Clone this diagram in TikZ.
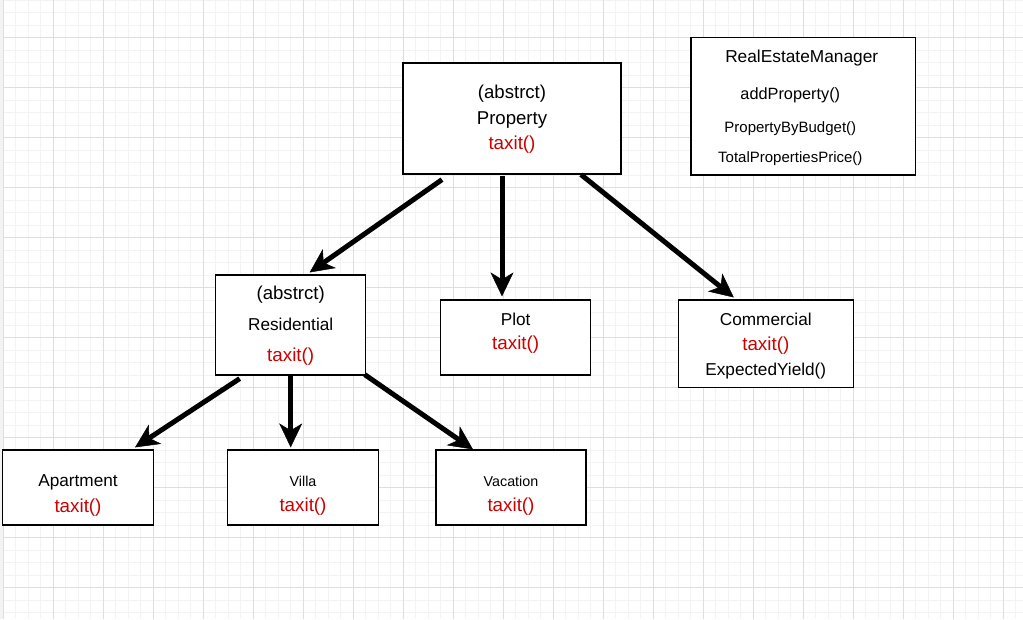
\documentclass[tikz,border=0pt]{standalone}
\usepackage{fontspec}
\setmainfont{Liberation Sans}
\usepackage{xcolor}
\usetikzlibrary{arrows.meta,positioning,calc}
\definecolor{taxred}{RGB}{204,0,0}
\definecolor{gridminor}{RGB}{243,243,243}
\definecolor{gridmajor}{RGB}{222,222,222}
\newcommand{\redcall}[1]{{\fontsize{18.8}{25}\selectfont\textcolor{taxred}{#1}}}
\newcommand{\abstag}{{\fontsize{18.6}{25}\selectfont (abstrct)}}
\newcommand{\bigtext}{\fontsize{17.2}{25}\selectfont}
\newcommand{\smalltext}{\fontsize{14.3}{20}\selectfont}

\begin{document}
\begin{tikzpicture}[x=1pt,y=-1pt,
  box/.style={rectangle,draw=black,line width=1.2pt,fill=white,inner sep=0pt},
  lbl/.style={align=center,inner sep=0pt,font=\bigtext},
  arrow/.style={-{Stealth[length=24pt,width=23pt,inset=7pt,line width=0.5pt]},line width=5pt}
]
\useasboundingbox (0,0) rectangle (1023,619);
% background grid
\fill[white] (0,0) rectangle (1023,619);
\fill[gridminor] (0,0) rectangle (3,619);
\foreach \x in {3.3,15.8,...,1023} \draw[gridminor,line width=1pt] (\x,0) -- (\x,619);
\foreach \y in {0.3,12.8,...,619} \draw[gridminor,line width=1pt] (3,\y) -- (1023,\y);
\foreach \x in {3.3,53.3,...,1023} \draw[gridmajor,line width=1pt] (\x,0) -- (\x,619);
\foreach \y in {37.3,87.3,...,619} \draw[gridmajor,line width=1pt] (3,\y) -- (1023,\y);

% classes
\node[box,minimum width=218pt,minimum height=111pt] (prop) at (512,118.5) {};
\node[lbl,font=\fontsize{18.6}{25.6}\selectfont] (proptext) at ([yshift=-1pt]prop.center) {(abstrct)\\Property\\\redcall{taxit()}};

\node[box,minimum width=224.7pt,minimum height=137.3pt] (rem) at (803.3,106.3) {};
\node[lbl,font=\fontsize{17.3}{20}\selectfont] (remtitle) at ([shift={(-1.6,21)}]rem.north) {RealEstateManager};
\node[lbl,font=\fontsize{16.3}{20}\selectfont] (remadd) at ([shift={(-13,58)}]rem.north) {addProperty()};
\node[lbl,font=\fontsize{15}{20}\selectfont] (rembudget) at ([shift={(-13,91.5)}]rem.north) {PropertyByBudget()};
\node[lbl,font=\fontsize{15}{20}\selectfont] (remtotal) at ([shift={(-13,121.5)}]rem.north) {TotalPropertiesPrice()};

\node[box,minimum width=150pt,minimum height=100pt] (res) at (290.7,325) {};
\node[lbl] (restext) at ([yshift=-1pt]res.center) {\abstag\\[6pt]Residential\\[6pt]\redcall{taxit()}};

\node[box,minimum width=150pt,minimum height=75pt] (plot) at (515.7,337.5) {};
\node[lbl] (plottext) at ([yshift=4pt]plot.center) {Plot\\[-1pt]\redcall{taxit()}};

\node[box,minimum width=175pt,minimum height=87.7pt] (comm) at (765.8,343.9) {};
\node[lbl] (commtext) at ([yshift=-2pt]comm.center) {Commercial\\\redcall{taxit()}\\ExpectedYield()};

\node[box,minimum width=150.6pt,minimum height=75pt] (apt) at (78,487.5) {};
\node[lbl] (apttext) at ([yshift=-8pt]apt.center) {Apartment\\[1pt]\redcall{taxit()}};

\node[box,minimum width=150.6pt,minimum height=75pt] (villa) at (303,487.5) {};
\node[lbl] (villatext) at ([yshift=-8pt]villa.center) {{\smalltext Villa}\\\redcall{taxit()}};

\node[box,minimum width=150pt,minimum height=75pt] (vac) at (511,487.5) {};
\node[lbl] (vactext) at ([yshift=-8pt]vac.center) {{\smalltext Vacation}\\\redcall{taxit()}};

% inheritance arrows
\draw[arrow] ([shift={(-70,5)}]prop.south) -- ([shift={(19,-2)}]res.north);
\draw[arrow] ([shift={(-10,1)}]prop.south) -- ([shift={(-13.7,-3)}]plot.north);
\draw[arrow] ([shift={(69,0)}]prop.south) -- ([shift={(-32,-2)}]comm.north);
\draw[arrow] ([shift={(-51,3)}]res.south) -- ([shift={(57,-2)}]apt.north);
\draw[arrow] (res.south) -- ([shift={(-12.3,-2)}]villa.north);
\draw[arrow] ([shift={(74,-1)}]res.south) -- ([shift={(-38,0)}]vac.north);
\end{tikzpicture}
\end{document}
